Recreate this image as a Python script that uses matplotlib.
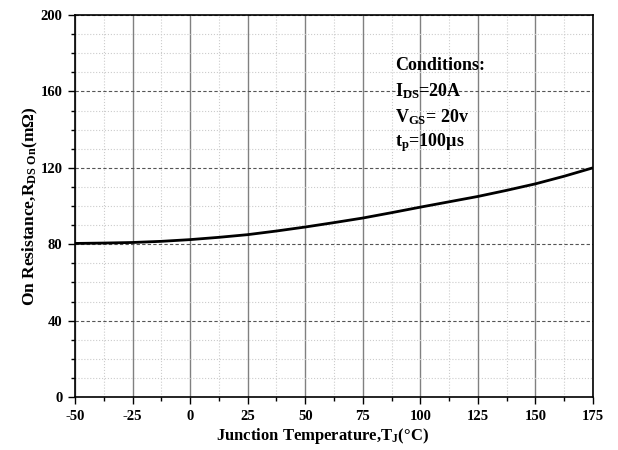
import matplotlib
matplotlib.use("Agg")
import matplotlib.pyplot as plt
from matplotlib.ticker import MultipleLocator

temps = [-50, -37.5, -25, -12.5, 0, 12.5, 25, 37.5, 50, 62.5, 75, 87.5, 100, 112.5, 125, 137.5, 150, 162.5, 175]
rdson = [80.4, 80.6, 80.9, 81.5, 82.4, 83.6, 85.0, 86.9, 89.0, 91.3, 93.7, 96.5, 99.4, 102.2, 105.0, 108.2, 111.6, 115.6, 120.0]
xticks = [-50, -25, 0, 25, 50, 75, 100, 125, 150, 175]
yticks = [0, 40, 80, 120, 160, 200]

plt.rcParams['font.family'] = ['Liberation Serif', 'DejaVu Serif']
plt.rcParams['font.weight'] = 'bold'
plt.rcParams['axes.unicode_minus'] = False
plt.rcParams['mathtext.fontset'] = 'custom'
plt.rcParams['mathtext.rm'] = 'Liberation Serif:bold'
plt.rcParams['mathtext.bf'] = 'Liberation Serif:bold'
plt.rcParams['mathtext.it'] = 'Liberation Serif:bold'

fig = plt.figure(figsize=(6.18, 4.5), dpi=100)
ax = fig.add_axes([75/618, 53/450, 518/618, 382/450])

ax.set_xlim(-50, 175)
ax.set_ylim(0, 200)
ax.set_xticks(xticks)
ax.set_yticks(yticks)
ax.xaxis.set_minor_locator(MultipleLocator(12.5))
ax.yaxis.set_minor_locator(MultipleLocator(10))

ax.grid(which='minor', color='#cccccc', linestyle=':', linewidth=0.8)
ax.grid(which='major', axis='x', color='#808080', linestyle='-', linewidth=1.0)
ax.grid(which='major', axis='y', color='#555555', linestyle=(0, (3, 2)), linewidth=0.8)
ax.set_axisbelow(True)

ax.plot(temps, rdson, color='black', linewidth=2.0, solid_capstyle='butt')

for s in ax.spines.values():
    s.set_linewidth(1.2)
    s.set_color('black')

ax.tick_params(which='major', direction='out', length=5, width=1.0, labelsize=10.5, pad=4)
ax.tick_params(which='minor', direction='out', length=3, width=1.0)
for lab in ax.get_xticklabels() + ax.get_yticklabels():
    lab.set_fontweight('bold')

ax.set_xlabel(r'Junction Temperature,T$_\mathregular{J}$(°C)', fontsize=12, fontweight='bold', labelpad=1)
ax.xaxis.set_label_coords(0.478, -0.075)
ax.set_ylabel(r'On Resistance,R$_\mathregular{DS\ On}$(m$\mathregular{\Omega}$)', fontsize=12.5, fontweight='bold', labelpad=0)

txt_x = 395
ax.text(txt_x, 450-65, 'Conditions:', transform=None, fontsize=13, fontweight='bold', va='center', ha='left')
ax.text(txt_x, 450-91, r'I$_\mathregular{DS}$=20A', transform=None, fontsize=13, fontweight='bold', va='center', ha='left')
ax.text(txt_x, 450-117, r'V$_\mathregular{GS}$= 20v', transform=None, fontsize=13, fontweight='bold', va='center', ha='left')
ax.text(txt_x, 450-143, r't$_\mathregular{p}$=100µs', transform=None, fontsize=13, fontweight='bold', va='center', ha='left')

fig.savefig('out.png', dpi=100)
